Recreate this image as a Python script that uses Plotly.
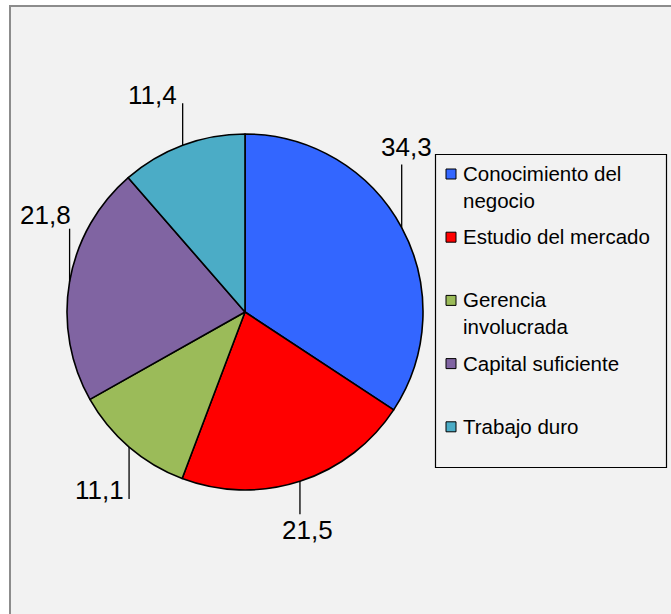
import math
import plotly.graph_objects as go

# Data
categories = ["Conocimiento del negocio", "Estudio del mercado",
              "Gerencia involucrada", "Capital suficiente", "Trabajo duro"]
legend_labels = ["Conocimiento del<br>negocio", "Estudio del mercado",
                 "Gerencia<br>involucrada", "Capital suficiente", "Trabajo duro"]
values = [34.3, 21.5, 11.1, 21.8, 11.4]

# Styles
colors = ["#3366FF", "#FF0000", "#9BBB59", "#8064A2", "#4BACC6"]
FONT = "Liberation Sans, Arial, sans-serif"
W, H = 671, 614
CX, CY, R = 245, 312, 178          # pie centre / radius in pixels
# leader line: direction (-1 up, +1 down), length, label offset from line end
leader_dir = [-1, 1, 1, -1, -1]
leader_len = [63, 33, 52, 53, 42]
label_off = [(5, -17.5), (7.5, 15.5), (-29.5, -9.5), (-24.5, -14), (-30.5, -8)]

# Legend layout (pixels)
LEG_BOX = (435.5, 154.5, 666.5, 467.5)
LEG_ROW0, LEG_STEP = 173, 63.2
LEG_MARK_X, LEG_TEXT_X, LEG_LINE = 451, 461, 25


def px(x):
    return x / W


def py(y):
    return 1 - y / H


fig = go.Figure(go.Pie(
    labels=categories,
    values=values,
    sort=False,
    direction="clockwise",
    rotation=0,
    marker=dict(colors=colors, line=dict(color="black", width=1.6)),
    textinfo="none",
    hoverinfo="label+value",
    showlegend=False,
    domain=dict(x=[px(CX - R), px(CX + R)], y=[py(CY + R), py(CY - R)]),
))

shapes = [
    # chart area
    dict(type="rect", xref="paper", yref="paper", layer="below",
         x0=px(10), x1=px(W + 5), y0=py(6), y1=py(H + 5),
         fillcolor="#F2F2F2", line=dict(color="#8C8C8C", width=2)),
]
annotations = []

# data labels with vertical leader lines from each slice's mid-arc
total = sum(values)
cum = 0.0
for i, v in enumerate(values):
    mid = (cum + v / 2) / total * 2 * math.pi
    cum += v
    ex = CX + R * math.sin(mid)
    ey = CY - R * math.cos(mid)
    ly = ey + leader_dir[i] * leader_len[i]
    shapes.append(dict(type="line", xref="paper", yref="paper", layer="above",
                       x0=px(ex), x1=px(ex), y0=py(ey), y1=py(ly),
                       line=dict(color="black", width=1.3)))
    dx, dy = label_off[i]
    annotations.append(dict(
        xref="paper", yref="paper", x=px(ex + dx), y=py(ly + dy),
        xanchor="center", yanchor="middle", showarrow=False,
        text=f"{v:.1f}".replace(".", ","),
        font=dict(family=FONT, size=26, color="black")))

# legend box
bx0, by0, bx1, by1 = LEG_BOX
shapes.append(dict(type="rect", xref="paper", yref="paper", layer="above",
                   x0=px(bx0), x1=px(bx1), y0=py(by0), y1=py(by1),
                   fillcolor="rgba(0,0,0,0)", line=dict(color="black", width=1.2)))
for i, lab in enumerate(legend_labels):
    yc = LEG_ROW0 + i * LEG_STEP
    shapes.append(dict(type="rect", xref="paper", yref="paper", layer="above",
                       x0=px(LEG_MARK_X - 5), x1=px(LEG_MARK_X + 5),
                       y0=py(yc - 4), y1=py(yc + 6),
                       fillcolor=colors[i], line=dict(color="black", width=1)))
    annotations.append(dict(
        xref="paper", yref="paper", x=px(LEG_TEXT_X), y=py(yc - 13),
        xanchor="left", yanchor="top", align="left", showarrow=False,
        text=lab, font=dict(family=FONT, size=20.5, color="black")))

fig.update_layout(
    width=W, height=H,
    margin=dict(l=0, r=0, t=0, b=0),
    paper_bgcolor="white",
    plot_bgcolor="white",
    shapes=shapes,
    annotations=annotations,
)

fig.write_html("out.html")
